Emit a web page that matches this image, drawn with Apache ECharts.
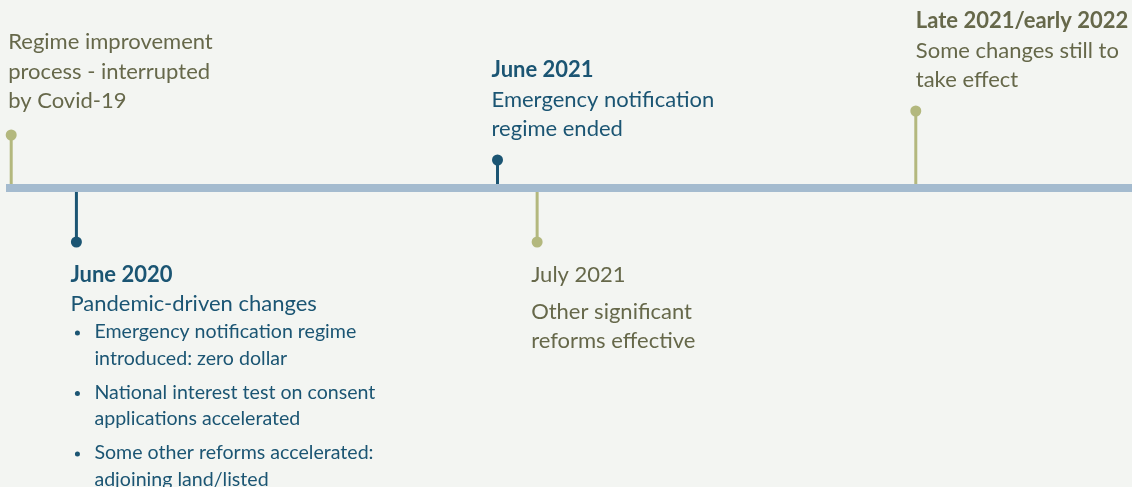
<!DOCTYPE html>
<html>
<head>
<meta charset="utf-8">
<script src="https://cdn.jsdelivr.net/npm/echarts@6/dist/echarts.min.js"></script>
<style>
  html, body { margin: 0; padding: 0; background: #f3f5f2; }
  #chart { width: 1132px; height: 487px; }
</style>
</head>
<body>
<div id="chart"></div>
<script>
// ---------- DATA ----------
// Position of each event along the timeline (arbitrary 0-100 scale, not to time scale)
const eventPositions = [0.99, 6.75, 43.95, 47.45, 80.9];
// Signed stem length (positive = above the timeline, negative = below)
const stemLengths = [53, -54, 28, -54, 77];
// Group: 'pandemic' (dark blue) or 'context' (olive)
const eventGroups = ['context', 'pandemic', 'pandemic', 'context', 'context'];
const eventTitles = ['', 'June 2020', 'June 2021', 'July 2021', 'Late 2021/early 2022'];
const eventTexts = [
  ['Regime improvement', 'process - interrupted', 'by Covid-19'],
  ['Pandemic-driven changes'],
  ['Emergency notification', 'regime ended'],
  ['Other significant', 'reforms effective'],
  ['Some changes still to', 'take effect']
];
const eventBullets = [
  [],
  [
    ['Emergency notification regime', 'introduced: zero dollar'],
    ['National interest test on consent', 'applications accelerated'],
    ['Some other reforms accelerated:', 'adjoining land/listed']
  ],
  [],
  [],
  []
];
const timelineRange = [0.53, 100];

// ---------- STYLE ----------
const FONT = 'Lato';
const colors = {
  pandemic: { text: '#1b5573', mark: '#1b5573' },
  context: { text: '#66684a', mark: '#b3b87e' }
};
const titleBold = [false, true, true, false, true];
const titleOwnParagraph = [false, false, false, true, false];
const textShift = [-3, -6, -6, -6, 0];
const tipGapExtra = [3, 0, 0, 0, 0];
const BODY_SIZE = 22, BULLET_SIZE = 19.6;
const LINE_STEP = 29.5, BULLET_STEP = 26.5, PARA_GAP = 7.5, TIP_GAP = 31;
const FIRST_BULLET_EXTRA = 1.5;

function buildLines(i) {
  const lines = [];
  if (eventTitles[i]) {
    lines.push({ text: eventTitles[i], kind: 'title', bold: titleBold[i] });
  }
  eventTexts[i].forEach((t, k) => {
    lines.push({ text: t, kind: 'body', newPara: k === 0 && titleOwnParagraph[i] });
  });
  eventBullets[i].forEach((b, bi) => {
    b.forEach((t, k) => {
      lines.push({ text: t, kind: 'bullet', first: k === 0, newPara: k === 0 && bi > 0, firstOfAll: bi === 0 && k === 0 });
    });
  });
  let y = 0;
  lines.forEach((ln, k) => {
    if (k > 0) {
      y += (ln.kind === 'bullet' ? BULLET_STEP : LINE_STEP) + (ln.newPara ? PARA_GAP : 0) + (ln.firstOfAll ? FIRST_BULLET_EXTRA : 0);
    }
    ln.dy = y;
  });
  return { lines, total: y };
}

const chart = echarts.init(document.getElementById('chart'), null, { renderer: 'canvas' });

const option = {
  backgroundColor: '#f3f5f2',
  animation: false,
  grid: { left: 0, right: 0, top: 0, bottom: 0 },
  xAxis: { type: 'value', min: 0, max: 100, show: false },
  yAxis: { type: 'value', min: -299, max: 188, show: false },
  series: [
    {
      type: 'line',
      data: [[timelineRange[0], 0], [timelineRange[1], 0]],
      symbol: 'none',
      lineStyle: { color: '#a4bbcf', width: 8, cap: 'butt' },
      silent: true,
      z: 1
    },
    {
      type: 'custom',
      z: 2,
      data: eventPositions.map((p, i) => [p, stemLengths[i]]),
      renderItem: function (params, api) {
        const i = params.dataIndex;
        const x = api.value(0), len = api.value(1);
        const base = api.coord([x, 0]);
        const tip = api.coord([x, len]);
        const up = len > 0;
        const c = colors[eventGroups[i]];
        const children = [];
        children.push({
          type: 'line',
          shape: { x1: base[0], y1: base[1] + (up ? -4 : 4), x2: tip[0], y2: tip[1] },
          style: { stroke: c.mark, lineWidth: 3 }
        });
        children.push({
          type: 'circle',
          shape: { cx: tip[0], cy: tip[1], r: 5.5 },
          style: { fill: c.mark }
        });
        const { lines, total } = buildLines(i);
        const tx = tip[0] + textShift[i];
        const gap = TIP_GAP + tipGapExtra[i];
        const startY = up ? tip[1] - gap - total : tip[1] + gap + 1.5;
        lines.forEach(ln => {
          const cy = startY + ln.dy;
          const isBullet = ln.kind === 'bullet';
          if (isBullet && ln.first) {
            children.push({
              type: 'circle',
              shape: { cx: tx + 7, cy: cy + 1, r: 2.5 },
              style: { fill: c.text }
            });
          }
          children.push({
            type: 'text',
            style: {
              text: ln.text,
              x: isBullet ? tx + 24 : tx,
              y: cy,
              align: 'left',
              verticalAlign: 'middle',
              fill: c.text,
              font: (ln.bold ? 'bold ' : '') + (isBullet ? BULLET_SIZE : BODY_SIZE) + 'px ' + FONT
            }
          });
        });
        return { type: 'group', children };
      }
    }
  ]
};
chart.setOption(option);
</script>
</body>
</html>
